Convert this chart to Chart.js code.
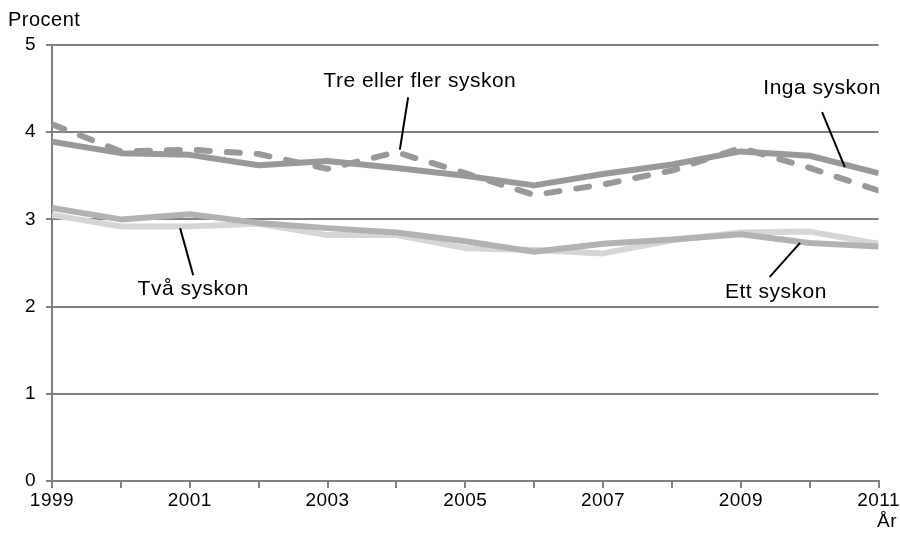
<!DOCTYPE html>
<html>
<head>
<meta charset="utf-8">
<script src="https://cdn.jsdelivr.net/npm/chart.js@4.4.1/dist/chart.umd.min.js"></script>
<style>
  html, body { margin: 0; padding: 0; background: #fff; }
  #wrap { width: 900px; height: 543px; position: relative; }
</style>
</head>
<body>
<div id="wrap"><canvas id="c"></canvas></div>
<script>
// data
const years = [1999, 2000, 2001, 2002, 2003, 2004, 2005, 2006, 2007, 2008, 2009, 2010, 2011];
const ingaSyskon = [3.89, 3.76, 3.74, 3.62, 3.67, 3.59, 3.50, 3.39, 3.52, 3.63, 3.78, 3.73, 3.53];
const ettSyskon  = [3.13, 3.00, 3.06, 2.96, 2.90, 2.85, 2.75, 2.63, 2.72, 2.77, 2.83, 2.73, 2.69];
const tvaSyskon  = [3.05, 2.92, 2.92, 2.95, 2.82, 2.82, 2.67, 2.65, 2.61, 2.76, 2.85, 2.86, 2.72];
const treFler    = [4.09, 3.78, 3.80, 3.75, 3.58, 3.77, 3.53, 3.28, 3.40, 3.56, 3.82, 3.59, 3.33];
const yTicks = [0, 1, 2, 3, 4, 5];

// labels with pointer lines, in data coordinates [year, value]
const callouts = [
  { text: 'Tre eller fler syskon', at: [2004.34, 4.58], from: [2004.17, 4.40], to: [2004.05, 3.80] },
  { text: 'Inga syskon', at: [2010.18, 4.51], from: [2010.18, 4.23], to: [2010.51, 3.60] },
  { text: 'Två syskon', at: [2001.05, 2.20], from: [2001.05, 2.36], to: [2000.86, 2.90] },
  { text: 'Ett syskon', at: [2009.51, 2.16], from: [2009.42, 2.34], to: [2009.86, 2.73] }
];

const pts = arr => arr.map((v, i) => ({ x: years[i], y: v }));
const FONT = 'Liberation Sans, Arial, sans-serif';

const extras = {
  id: 'extras',
  beforeDraw(chart) {
    chart.ctx.letterSpacing = '0.5px';
  },
  afterDatasetsDraw(chart) {
    const { ctx, scales: { x, y } } = chart;
    ctx.save();
    ctx.font = '21px ' + FONT;
    ctx.letterSpacing = '0.5px';
    ctx.fillStyle = '#000';
    ctx.strokeStyle = '#000';
    ctx.lineWidth = 2;
    callouts.forEach(c => {
      ctx.beginPath();
      ctx.moveTo(x.getPixelForValue(c.from[0]), y.getPixelForValue(c.from[1]));
      ctx.lineTo(x.getPixelForValue(c.to[0]), y.getPixelForValue(c.to[1]));
      ctx.stroke();
      ctx.textAlign = 'center';
      ctx.textBaseline = 'middle';
      ctx.fillText(c.text, x.getPixelForValue(c.at[0]), y.getPixelForValue(c.at[1]));
    });
    ctx.font = '20px ' + FONT;
    ctx.textAlign = 'left';
    ctx.textBaseline = 'middle';
    ctx.fillText('Procent', 8, 20);
    ctx.font = '19px ' + FONT;
    ctx.textAlign = 'right';
    ctx.fillText('År', 897, 522);
    ctx.restore();
  }
};

new Chart(document.getElementById('c'), {
  type: 'line',
  data: {
    datasets: [
      { label: 'Inga syskon', data: pts(ingaSyskon), borderColor: '#999999', borderWidth: 6 },
      { label: 'Ett syskon', data: pts(ettSyskon), borderColor: '#b2b2b2', borderWidth: 6 },
      { label: 'Två syskon', data: pts(tvaSyskon), borderColor: '#d6d6d6', borderWidth: 6 },
      { label: 'Tre eller fler syskon', data: pts(treFler), borderColor: '#999999', borderWidth: 6,
        borderDash: [13, 17], borderCapStyle: 'round' }
    ]
  },
  options: {
    responsive: true,
    maintainAspectRatio: false,
    animation: false,
    elements: { point: { radius: 0 }, line: { tension: 0, borderJoinStyle: 'round' } },
    layout: { padding: { top: 45, right: 21, left: 0, bottom: 0 } },
    plugins: { legend: { display: false }, tooltip: { enabled: false } },
    scales: {
      x: {
        type: 'linear',
        min: years[0],
        max: years[years.length - 1],
        afterBuildTicks: s => { s.ticks = years.map(v => ({ value: v })); },
        afterFit: s => { s.height = 62; },
        grid: { drawOnChartArea: false, color: '#808080', lineWidth: 2, tickLength: 7 },
        border: { color: '#808080', width: 2 },
        ticks: {
          autoSkip: false, maxRotation: 0, padding: 1, color: '#000',
          font: { family: FONT, size: 19 },
          callback: v => (v - years[0]) % 2 === 0 ? String(v) : ''
        }
      },
      y: {
        min: 0,
        max: 5,
        afterBuildTicks: s => { s.ticks = yTicks.map(v => ({ value: v })); },
        afterFit: s => { s.width = 52; },
        grid: { color: '#808080', lineWidth: 2, tickLength: 6 },
        border: { color: '#808080', width: 2 },
        ticks: { color: '#000', padding: 10, font: { family: FONT, size: 19 } }
      }
    }
  },
  plugins: [extras]
});
</script>
</body>
</html>
